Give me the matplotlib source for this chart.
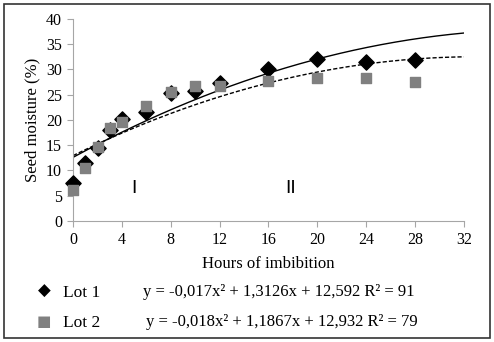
import numpy as np
import matplotlib
matplotlib.use("Agg")
import matplotlib.pyplot as plt
from matplotlib.patches import Rectangle

hours = [0, 1, 2, 3, 4, 6, 8, 10, 12, 16, 20, 24, 28]
lot1 = [7.5, 11.5, 14.5, 18.0, 20.2, 21.5, 25.3, 25.8, 27.2, 30.0, 32.0, 31.5, 31.8]
lot2 = [6.2, 10.5, 14.6, 18.3, 19.5, 22.8, 25.5, 26.8, 26.8, 27.7, 28.2, 28.2, 27.5]

# quadratic trend coefficients as printed on the chart (a, b, c)
coef1 = [-0.017, 1.3126, 12.592]
coef2 = [-0.018, 1.1867, 12.932]
eq1 = "y = -0,017x² + 1,3126x + 12,592 R² = 91"
eq2 = "y = -0,018x² + 1,1867x + 12,932 R² = 79"

plt.rcParams["font.family"] = ["Liberation Serif", "DejaVu Serif"]

fig = plt.figure(figsize=(4.94, 3.42), dpi=100)
ax = fig.add_axes([0.148, 0.354, 0.791, 0.591])

xs = np.linspace(0, 32, 200)
ax.plot(xs, np.polyval(coef1, xs), color="black", lw=1.0, zorder=2)
ax.plot(xs, np.polyval(coef2, xs), color="black", lw=1.0, ls=(0, (3, 1.5)), zorder=2)
ax.scatter(hours, lot1, marker="D", s=60, color="black", zorder=3, clip_on=False)
ax.scatter(hours, lot2, marker="s", s=55, color="#808080", zorder=4, clip_on=False)

ax.set_xlim(0, 32)
ax.set_ylim(0, 40)
ax.set_xticks(range(0, 33, 4))
ax.set_yticks(range(0, 41, 5))
for s in ["top", "right"]:
    ax.spines[s].set_visible(False)
for s in ["left", "bottom"]:
    ax.spines[s].set_color("#a6a6a6")
ax.tick_params(direction="out", length=4, color="#a6a6a6", labelsize=11.5, pad=4)
ax.set_xlabel("Hours of imbibition", fontsize=12, labelpad=6)
ax.set_ylabel("Seed moisture (%)", fontsize=12, labelpad=4)

ax.text(5, 6.5, "I", fontsize=14, ha="center", va="center", family=["Liberation Sans"])
ax.text(17.8, 6.5, "II", fontsize=14, ha="center", va="center", family=["Liberation Sans"])

# legend rows below the plot
fig.text(44 / 494, 1 - 291 / 342, "◆", fontsize=12, ha="center", va="center",
         family=["DejaVu Sans"])
fig.text(63 / 494, 1 - 293 / 342, "Lot 1", fontsize=12.5, va="center")
fig.text(143 / 494, 1 - 292 / 342, eq1, fontsize=12, va="center")
fig.text(44 / 494, 1 - 322 / 342, "■", fontsize=11, ha="center", va="center",
         color="#808080", family=["DejaVu Sans"])
fig.text(63 / 494, 1 - 323 / 342, "Lot 2", fontsize=12.5, va="center")
fig.text(146 / 494, 1 - 322 / 342, eq2, fontsize=12, va="center")

fig.patches.append(Rectangle((4 / 494, 4 / 342), 486 / 494, 334 / 342,
                             transform=fig.transFigure, fill=False,
                             edgecolor="#333333", lw=1.2))

fig.savefig("out.png", dpi=100)
